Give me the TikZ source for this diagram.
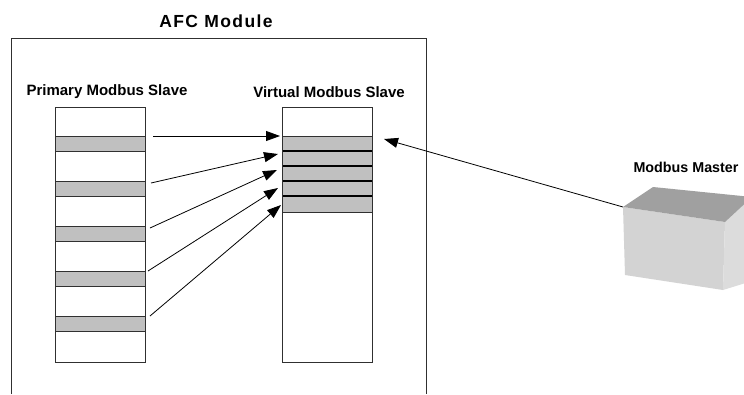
\documentclass[tikz,border=0pt]{standalone}
\usepackage{fontspec}
\setmainfont{Liberation Sans}
\usetikzlibrary{arrows.meta}
\definecolor{rowgray}{HTML}{C0C0C0}
\definecolor{edge}{HTML}{303030}
\definecolor{boxtop}{HTML}{A0A0A0}
\definecolor{boxfront}{HTML}{D3D3D3}
\definecolor{boxside}{HTML}{DCDCDC}
\tikzset{
  col/.style={draw=edge, line width=1pt, fill=white},
  grayrow/.style={draw=edge, line width=1pt, fill=rowgray},
  link/.style={draw=black, line width=0.8pt, -{Triangle[length=14pt,width=10pt]}},
  lbl/.style={font=\bfseries\fontsize{15}{17}\selectfont, inner sep=0pt},
}
\begin{document}
\begin{tikzpicture}[x=1pt,y=-1pt]
\useasboundingbox (0,0) rectangle (744,394);
% frame
\draw[edge, line width=1pt] (11,394) -- (11,38.5) -- (426,38.5) -- (426,394);
\node[font=\bfseries\fontsize{17.5}{19}\selectfont\addfontfeature{LetterSpace=8}, inner sep=0pt] (title) at (216,21) {AFC Module};
\node[lbl] (plabel) at (107,92) {Primary Modbus Slave};
\node[lbl] (vlabel) at (329,92) {Virtual Modbus Slave};
% primary column
\draw[col] (55,107) rectangle (145,362);
\foreach \i/\y in {1/136,2/181,3/226,4/271,5/316}{
  \draw[grayrow] (55,\y) rectangle (145,\y+15);
}
% virtual column
\draw[col] (282,107) rectangle (372,362);
\fill[rowgray] (282,136) rectangle (372,212);
\foreach \y in {151,166,181,196}{
  \draw[black, line width=1.5pt] (282,\y) -- (372,\y);
}
\draw[edge, line width=1pt] (282,136) -- (372,136);
\draw[edge, line width=1pt] (282,212) -- (372,212);
\draw[edge, line width=1pt] (282,107) rectangle (372,362);
% arrow end points
\coordinate (p1) at (153,136);
\coordinate (p2) at (151,183);
\coordinate (p3) at (150,228);
\coordinate (p4) at (148,271);
\coordinate (p5) at (150,316);
\coordinate (v1) at (280,136);
\coordinate (v2) at (278,154);
\coordinate (v3) at (277,170);
\coordinate (v4) at (278,188);
\coordinate (v5) at (281,205);
\foreach \i in {1,...,5}{
  \draw[link] (p\i) -- (v\i);
}
% master
\node[lbl, font=\bfseries\fontsize{14.3}{16}\selectfont] (master) at (686,167) {Modbus Master};
\coordinate (mcorner) at (623,207);
\coordinate (vtarget) at (384,139);
\fill[boxfront] (623,207) -- (725,222) -- (723,290) -- (625,275) -- cycle;
\fill[boxside] (725,222) -- (752,197) -- (752,281) -- (723,290) -- cycle;
\fill[boxtop] (623,207) -- (653,187) -- (752,197) -- (725,222) -- cycle;
\draw[link] (mcorner) -- (vtarget);
\end{tikzpicture}
\end{document}
